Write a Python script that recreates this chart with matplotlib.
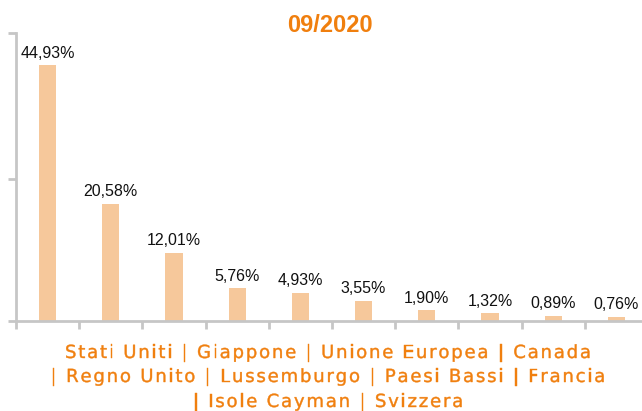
import matplotlib
matplotlib.use('Agg')
import matplotlib.pyplot as plt
from matplotlib.font_manager import FontProperties
from matplotlib.textpath import TextPath
from matplotlib.patches import PathPatch
from matplotlib.transforms import Affine2D

# share by country, 09/2020
countries = ['Stati Uniti', 'Giappone', 'Unione Europea', 'Canada', 'Regno Unito',
             'Lussemburgo', 'Paesi Bassi', 'Francia', 'Isole Cayman', 'Svizzera']
values = [44.93, 20.58, 12.01, 5.76, 4.93, 3.55, 1.90, 1.32, 0.89, 0.76]
title = '09/2020'

orange = '#F07F0E'
bar_col = '#F6C89B'
grey = '#C6C6C6'

fig = plt.figure(figsize=(6.42, 4.11), dpi=100)
ax = fig.add_axes([16 / 642, 1 - 321 / 411, 632 / 642, 288 / 411])

x = list(range(len(values)))
ax.bar(x, values, width=0.27, color=bar_col)
for xi, v in zip(x, values):
    ax.annotate(('%.2f' % v).replace('.', ',') + '%', (xi, v), xytext=(0, 5.5),
                textcoords='offset points', ha='center', va='baseline',
                fontsize=11.5, family='Liberation Sans', color='#111111')

ax.set_xlim(-0.5, len(values) - 0.5)
ax.set_ylim(0, 50.6)
ax.set_yticks([0, 25, 50.6])
ax.set_yticklabels([])
ax.set_xticks([i - 0.5 for i in range(len(values) + 1)])
ax.set_xticklabels([])
ax.tick_params(axis='both', length=6, width=2, color=grey, direction='out')
for s in ['top', 'right']:
    ax.spines[s].set_visible(False)
for s in ['left', 'bottom']:
    ax.spines[s].set_color(grey)
    ax.spines[s].set_linewidth(2)

fig.text(330 / 642, 1 - 32 / 411, title, ha='center', va='baseline', color=orange,
         fontsize=17, fontweight='bold', family='Liberation Sans')

# category label with letter spacing: glyph paths placed on their origins
lines = [' | '.join(countries[:4]),
         '| ' + ' | '.join(countries[4:8]),
         '| ' + ' | '.join(countries[8:])]
baselines = [358, 382, 407]
fs = 13
spacing = 1.3  # points between letters
prop = FontProperties(family='DejaVu Sans')
space_w = TextPath((0, 0), 'a a', size=fs, prop=prop).get_extents().width - \
    TextPath((0, 0), 'aa', size=fs, prop=prop).get_extents().width
k = fig.dpi / 72

for line, yb in zip(lines, baselines):
    glyphs = []
    pos = 0
    for c in line:
        if c == ' ':
            pos += space_w + spacing
            continue
        tp = TextPath((pos, 0), c, size=fs, prop=prop)
        glyphs.append(tp)
        adv = TextPath((0, 0), c + '|', size=fs, prop=prop).get_extents().x1 - \
            TextPath((0, 0), '|', size=fs, prop=prop).get_extents().x1
        pos += adv + spacing
    total = pos - spacing
    x0 = 328 - total * k / 2
    tr = Affine2D().scale(k).translate(x0, 411 - yb)
    for tp in glyphs:
        fig.add_artist(PathPatch(tp, transform=tr, facecolor=orange, edgecolor=orange,
                                 lw=0.3))

fig.savefig('out.png', dpi=100)
